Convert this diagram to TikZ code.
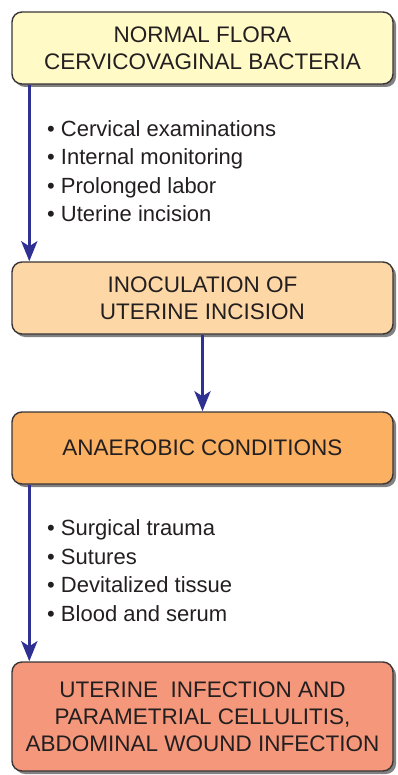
\documentclass[tikz,border=0pt]{standalone}
\usepackage{fontspec}
\setmainfont{Liberation Sans}
\usetikzlibrary{arrows.meta,shadows}
\definecolor{txt}{HTML}{231F20}
\definecolor{arrc}{HTML}{2E3192}
\definecolor{c1}{HTML}{FFFAC6}
\definecolor{c2}{HTML}{FDD7A6}
\definecolor{c3}{HTML}{FBB062}
\definecolor{c4}{HTML}{F4977A}
\tikzset{
  box/.style={draw=txt!90, line width=1.4pt, rounded corners=10pt,
    minimum width=381pt, align=center, text=txt, inner sep=0pt,
    font=\fontsize{22.5}{27}\selectfont,
    drop shadow={shadow xshift=3pt, shadow yshift=-3pt, fill=black!55, opacity=0.9}},
  arr/.style={draw=arrc, line width=3.5pt, -{Stealth[length=20pt,width=16pt,inset=5pt]}},
  item/.style={anchor=base west, inner sep=0pt, text=txt, font=\fontsize{22}{24}\selectfont}
}
\begin{document}
\begin{tikzpicture}[x=1pt,y=-1pt]
\useasboundingbox (0,0) rectangle (397,775);
\node[box, fill=c1, minimum height=72pt] (b1) at (202.5,48) {NORMAL FLORA\\CERVICOVAGINAL BACTERIA};
\node[box, fill=c2, minimum height=72pt] (b2) at (202.5,298) {INOCULATION OF\\UTERINE INCISION};
\node[box, fill=c3, minimum height=72pt] (b3) at (202.5,448) {ANAEROBIC CONDITIONS};
\node[box, fill=c4, minimum height=109pt] (b4) at (202.5,716.5) {UTERINE\ \ INFECTION AND\\PARAMETRIAL CELLULITIS,\\ABDOMINAL WOUND INFECTION};
\draw[arr] ([xshift=18pt]b1.south west) -- ([xshift=18pt]b2.north west);
\draw[arr] (b2.south) -- (b3.north);
\draw[arr] ([xshift=18pt]b3.south west) -- ([xshift=18pt]b4.north west);
\node[item] (l1) at (47,136.5) {• Cervical examinations};
\node[item] (l2) at (47,165) {• Internal monitoring};
\node[item] (l3) at (47,193.5) {• Prolonged labor};
\node[item] (l4) at (47,222) {• Uterine incision};
\node[item] (l5) at (47,535.5) {• Surgical trauma};
\node[item] (l6) at (47,564) {• Sutures};
\node[item] (l7) at (47,592.5) {• Devitalized tissue};
\node[item] (l8) at (47,621) {• Blood and serum};
\end{tikzpicture}
\end{document}
